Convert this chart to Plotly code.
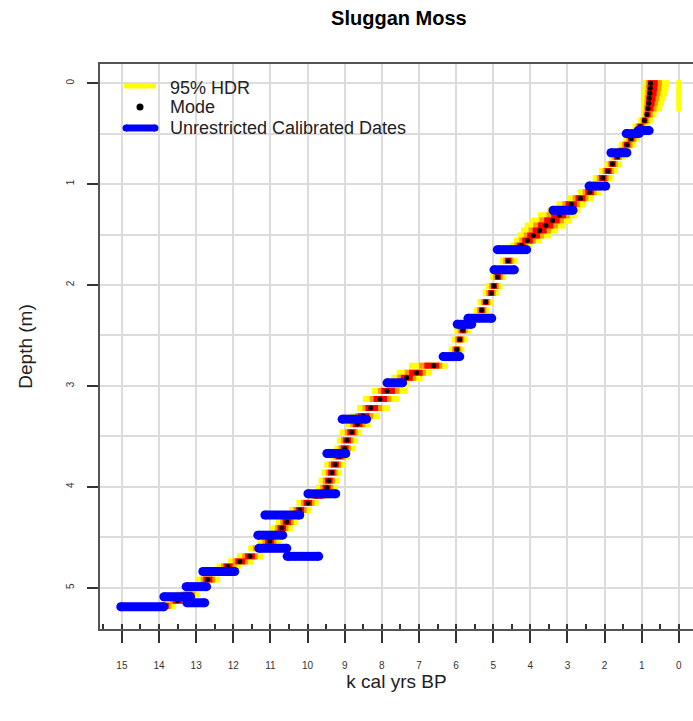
import plotly.graph_objects as go

# ---- Age-depth model output (depth in m, ages in k cal yrs BP) ----
hdr_depth = [0.00, 0.05, 0.10, 0.15, 0.20, 0.25, 0.31, 0.37, 0.43, 0.49,
             0.55, 0.61, 0.67, 0.73, 0.80, 0.87, 0.94, 1.01, 1.08, 1.14,
             1.20, 1.26, 1.31, 1.36, 1.41, 1.46, 1.51, 1.56, 1.61, 1.66,
             1.76, 1.84, 1.92, 2.01, 2.08, 2.17, 2.25, 2.33, 2.39, 2.45,
             2.54, 2.64, 2.71, 2.80, 2.87, 2.92, 2.98, 3.05, 3.13, 3.22,
             3.30, 3.38, 3.46, 3.54, 3.62, 3.70, 3.78, 3.86, 3.94, 4.01,
             4.09, 4.16, 4.23, 4.29, 4.35, 4.41, 4.47, 4.54, 4.61, 4.69,
             4.74, 4.79, 4.85, 4.92, 4.99, 5.07, 5.13, 5.18]
hdr_mode = [0.76, 0.77, 0.78, 0.80, 0.81, 0.83, 0.86, 0.93, 1.04, 1.16,
            1.29, 1.40, 1.53, 1.66, 1.79, 1.91, 2.05, 2.22, 2.40, 2.65,
            2.90, 3.08, 3.22, 3.40, 3.58, 3.75, 3.92, 4.08, 4.25, 4.40,
            4.60, 4.75, 4.88, 4.98, 5.05, 5.20, 5.31, 5.50, 5.70, 5.82,
            5.90, 5.98, 6.10, 6.60, 7.06, 7.33, 7.62, 7.86, 8.05, 8.30,
            8.51, 8.66, 8.81, 8.94, 9.00, 9.15, 9.26, 9.35, 9.43, 9.48,
            9.72, 9.99, 10.21, 10.38, 10.56, 10.69, 10.85, 11.02, 11.28, 11.55,
            11.82, 12.15, 12.42, 12.69, 12.95, 13.22, 13.50, 13.85]
hdr_lo = [0.26, 0.28, 0.31, 0.35, 0.40, 0.45, 0.60, 0.70, 0.80, 0.92,
          1.05, 1.15, 1.30, 1.45, 1.55, 1.65, 1.78, 1.95, 2.10, 2.30,
          2.50, 2.65, 2.75, 2.90, 3.05, 3.25, 3.45, 3.70, 3.95, 4.10,
          4.35, 4.52, 4.65, 4.75, 4.85, 5.00, 5.10, 5.28, 5.45, 5.60,
          5.70, 5.78, 5.88, 6.22, 6.65, 6.90, 7.25, 7.30, 7.54, 7.78,
          8.05, 8.30, 8.54, 8.65, 8.72, 8.85, 8.98, 9.08, 9.15, 9.20,
          9.40, 9.70, 9.90, 10.08, 10.25, 10.40, 10.55, 10.72, 10.95, 11.20,
          11.45, 11.80, 12.10, 12.35, 12.62, 12.90, 13.15, 13.55]
hdr_hi = [0.97, 0.98, 0.99, 1.00, 1.01, 1.02, 1.02, 1.10, 1.25, 1.38,
          1.50, 1.62, 1.75, 1.88, 2.00, 2.15, 2.32, 2.50, 2.72, 3.00,
          3.30, 3.55, 3.80, 4.00, 4.15, 4.25, 4.35, 4.45, 4.55, 4.65,
          4.82, 4.95, 5.08, 5.20, 5.28, 5.42, 5.52, 5.75, 5.95, 6.05,
          6.12, 6.20, 6.35, 7.27, 7.60, 7.75, 7.95, 8.27, 8.51, 8.67,
          8.86, 8.98, 9.13, 9.21, 9.28, 9.40, 9.55, 9.62, 9.70, 9.78,
          10.00, 10.30, 10.50, 10.68, 10.85, 11.00, 11.15, 11.35, 11.60, 11.90,
          12.15, 12.45, 12.75, 13.00, 13.25, 13.55, 13.85, 14.05]

# second (young) HDR interval near the surface
hdr2_depth = [0.00, 0.05, 0.10, 0.15, 0.20, 0.25]
hdr2_lo = [-0.07, -0.07, -0.07, -0.07, -0.07, -0.07]
hdr2_hi = [0.07, 0.07, 0.07, 0.07, 0.07, 0.07]

# ---- Unrestricted calibrated dates ----
date_depth = [0.47, 0.50, 0.69, 1.02, 1.26, 1.65, 1.85, 2.33, 2.39, 2.71,
              2.97, 3.33, 3.67, 4.07, 4.28, 4.48, 4.61, 4.69, 4.84, 4.99,
              5.09, 5.15, 5.19]
date_lo = [0.80, 1.07, 1.40, 1.97, 2.85, 4.10, 4.43, 5.04, 5.58, 5.90,
           7.44, 8.41, 8.97, 9.24, 10.21, 10.67, 10.56, 9.70, 11.96, 12.72,
           13.15, 12.77, 13.87]
date_hi = [1.10, 1.42, 1.83, 2.42, 3.39, 4.89, 4.98, 5.68, 5.97, 6.35,
           7.86, 9.07, 9.48, 9.99, 11.15, 11.34, 11.31, 10.55, 12.82, 13.27,
           13.87, 13.25, 15.03]

x_ticks = list(range(0, 16))
y_ticks = [0, 1, 2, 3, 4, 5]
legend_labels = ["95% HDR", "Mode", "Unrestricted Calibrated Dates"]


def segs(depths, lo, hi):
    xs, ys = [], []
    for d, a, b in zip(depths, lo, hi):
        xs += [a, b, None]
        ys += [d, d, None]
    return xs, ys


def inner(frac):
    lo = [m - (m - a) * frac for m, a in zip(hdr_mode, hdr_lo)]
    hi = [m + (b - m) * frac for m, b in zip(hdr_mode, hdr_hi)]
    return lo, hi


fig = go.Figure()

yx, yy = segs(hdr_depth + hdr2_depth, hdr_lo + hdr2_lo, hdr_hi + hdr2_hi)
fig.add_trace(go.Scatter(x=yx, y=yy, mode="lines", name=legend_labels[0],
                         line=dict(color="#FFFF00", width=6)))
olo, ohi = inner(0.6)
ox, oy = segs(hdr_depth, olo, ohi)
fig.add_trace(go.Scatter(x=ox, y=oy, mode="lines",
                         line=dict(color="#FF9900", width=6), hoverinfo="skip"))
rlo, rhi = inner(0.38)
rx, ry = segs(hdr_depth, rlo, rhi)
fig.add_trace(go.Scatter(x=rx, y=ry, mode="lines",
                         line=dict(color="#FF0000", width=6), hoverinfo="skip"))
fig.add_trace(go.Scatter(x=hdr_mode, y=hdr_depth, mode="markers",
                         name=legend_labels[1],
                         marker=dict(color="black", size=5)))

bx, by = segs(date_depth, date_lo, date_hi)
fig.add_trace(go.Scatter(x=bx, y=by, mode="lines", name=legend_labels[2],
                         line=dict(color="#0000FF", width=9)))
fig.add_trace(go.Scatter(x=date_lo + date_hi, y=date_depth + date_depth,
                         mode="markers", hoverinfo="skip",
                         marker=dict(color="#0000FF", size=9, line=dict(width=0))))

grid_col = "#DCDCDC"
axis_col = "#555555"
font_fam = "Liberation Sans, Arial, sans-serif"

# ---- hand-built legend (R-style compact spacing) ----
L, B, W, H = 100, 629, 593, 565   # plot area in pixels (left, bottom, width, height)


def px(x):
    return (x - L) / W


def py(y):
    return (B - y) / H


shapes = [
    dict(type="line", xref="paper", yref="paper", x0=px(124), x1=px(156),
         y0=py(86), y1=py(86), line=dict(color="#FFFF00", width=5)),
    dict(type="circle", xref="paper", yref="paper", xsizemode="pixel",
         ysizemode="pixel", xanchor=px(140), yanchor=py(107),
         x0=-3.5, x1=3.5, y0=-3.5, y1=3.5,
         fillcolor="black", line=dict(width=0)),
    dict(type="line", xref="paper", yref="paper", x0=px(126), x1=px(155),
         y0=py(128), y1=py(128), line=dict(color="#0000FF", width=7)),
    dict(type="circle", xref="paper", yref="paper", xsizemode="pixel",
         ysizemode="pixel", xanchor=px(126), yanchor=py(128),
         x0=-3.5, x1=3.5, y0=-3.5, y1=3.5,
         fillcolor="#0000FF", line=dict(width=0)),
    dict(type="circle", xref="paper", yref="paper", xsizemode="pixel",
         ysizemode="pixel", xanchor=px(155), yanchor=py(128),
         x0=-3.5, x1=3.5, y0=-3.5, y1=3.5,
         fillcolor="#0000FF", line=dict(width=0)),
]
annotations = [
    dict(text=t, xref="paper", yref="paper", x=px(168), y=py(yc),
         xanchor="left", yanchor="middle", showarrow=False,
         font=dict(size=18, color="#222222"))
    for t, yc in zip(legend_labels, [88, 107, 128])
]

fig.update_layout(
    width=693, height=721,
    margin=dict(l=100, r=0, t=64, b=92),
    paper_bgcolor="white", plot_bgcolor="white",
    font=dict(family=font_fam, color="#222222"),
    title=dict(text="<b>Sluggan Moss</b>", x=0.504, xref="paper",
               y=1 - 18 / 721, yanchor="middle", yref="container",
               font=dict(size=20, color="#000000")),
    showlegend=False,
    shapes=shapes,
    annotations=annotations,
)

fig.update_xaxes(
    range=[15.59, -0.38], autorange=False,
    tickmode="array", tickvals=x_ticks, ticktext=[str(v) for v in x_ticks],
    ticks="outside", ticklen=12, tickwidth=1.5, tickcolor="#333333",
    tickfont=dict(size=10, color="#333333"), ticklabelstandoff=14,
    showgrid=True, gridcolor=grid_col, gridwidth=2,
    showline=True, linecolor=axis_col, linewidth=2, mirror=True,
    zeroline=False,
    minor=dict(ticks="inside", ticklen=5, dtick=0.5, tick0=0.5,
               tickcolor="#333333", tickwidth=1.5, showgrid=False),
    title=dict(text="k cal yrs BP", font=dict(size=19, color="#222222"),
               standoff=4),
)
fig.update_yaxes(
    range=[5.41, -0.19], autorange=False,
    tickmode="array", tickvals=y_ticks, ticktext=[str(v) for v in y_ticks],
    ticks="outside", ticklen=11, tickwidth=1.5, tickcolor="#333333",
    tickangle=-90, tickfont=dict(size=10, color="#333333"),
    ticklabelstandoff=9,
    showgrid=True, gridcolor=grid_col, gridwidth=2,
    showline=True, linecolor=axis_col, linewidth=2, mirror=False,
    zeroline=False,
    minor=dict(dtick=0.5, tick0=0, showgrid=True, gridcolor=grid_col,
               gridwidth=2, ticks=""),
    title=dict(text="Depth (m)", font=dict(size=19, color="#222222"),
               standoff=27),
)

fig.write_html("out.html")
